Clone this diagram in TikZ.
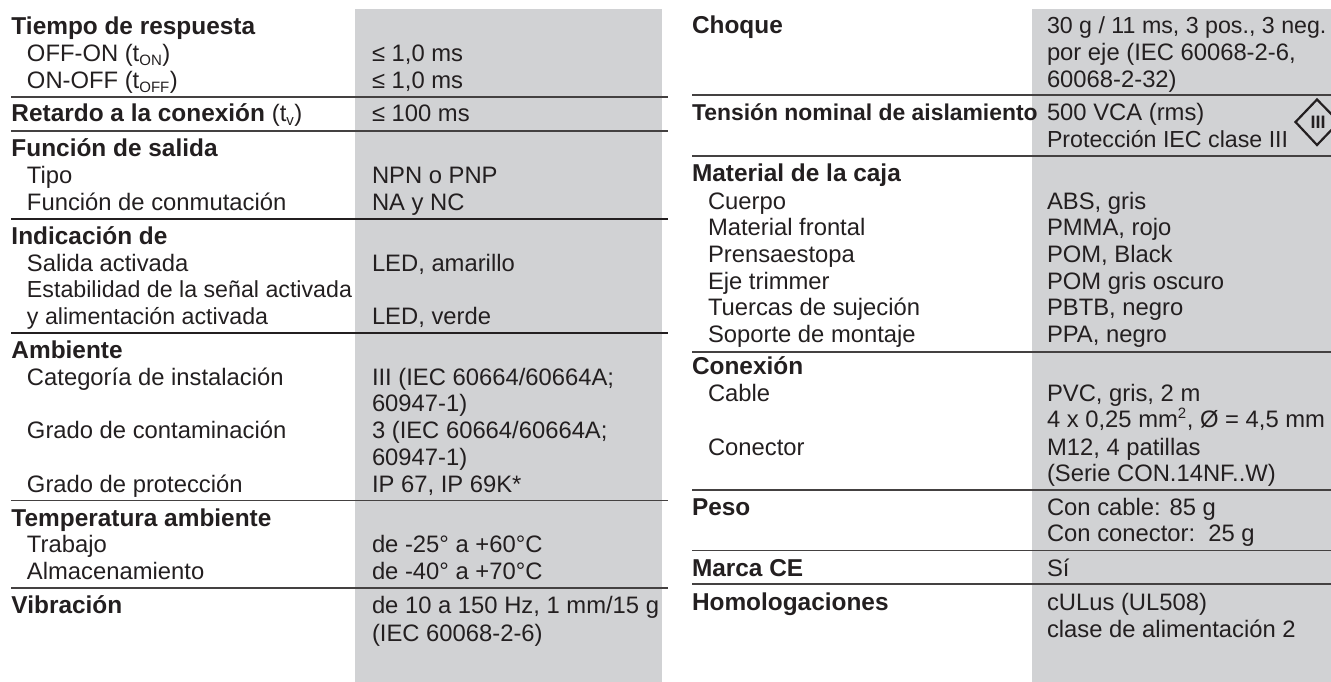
\documentclass[tikz,border=0pt]{standalone}
\usepackage{fontspec}
\setmainfont{Liberation Sans}
\definecolor{ink}{HTML}{231F20}
\definecolor{band}{HTML}{D1D2D4}
\newcommand{\subs}[1]{\textsubscript{\fontsize{15}{15}\selectfont #1}}
\tikzset{
 txt/.style={anchor=base west,inner sep=0pt,outer sep=0pt,text=ink,font=\fontsize{23.8}{26}\selectfont},
 tighttxt/.style={txt,font=\fontsize{23.2}{26}\selectfont},
 head/.style={txt,font=\fontsize{24.4}{26}\selectfont\bfseries},
 tighthead/.style={txt,font=\fontsize{22.9}{26}\selectfont\bfseries},
 rule/.style={draw=ink!85,line width=1.1pt},
 rulethick/.style={draw=ink,line width=1.9pt}
}
\begin{document}
\begin{tikzpicture}[x=1pt,y=-1pt]
\useasboundingbox (0,0) rectangle (1331,682);
\fill[band] (355,9) rectangle (662,682);
\fill[band] (1032,9) rectangle (1331,682);
% rules left
\draw[rule] (11,97) -- (668,97);
\draw[rule] (11,131) -- (668,131);
\draw[rulethick] (11,219) -- (668,219);
\draw[rulethick] (11,333) -- (668,333);
\draw[rule] (11,500.5) -- (668,500.5);
\draw[rule] (11,588) -- (668,588);
% rules right
\draw[rule] (692,95) -- (1331,95);
\draw[rule] (692,156) -- (1331,156);
\draw[rule] (692,352) -- (1331,352);
\draw[rule] (692,490) -- (1331,490);
\draw[rule] (692,550.5) -- (1331,550.5);
\draw[rule] (692,584) -- (1331,584);
% left column labels
\node[head] (h1) at (11.5,34.3) {Tiempo de respuesta};
\node[txt] (l1) at (27,61.7) {OFF-ON (t\subs{ON})};
\node[txt] (l2) at (27,88.3) {ON-OFF (t\subs{OFF})};
\node[head] (h2) at (11.5,122) {Retardo a la conexión \mdseries\fontsize{23.8}{26}\selectfont(t\subs{v})};
\node[head] (h3) at (11.5,156.7) {Función de salida};
\node[txt] (l3) at (27,183) {Tipo};
\node[txt] (l4) at (27,210) {Función de conmutación};
\node[head] (h4) at (11.5,244.3) {Indicación de};
\node[txt] (l5) at (27,271) {Salida activada};
\node[tighttxt] (l6) at (27,297.7) {Estabilidad de la señal activada};
\node[tighttxt] (l7) at (27,324) {y alimentación activada};
\node[head] (h5) at (11.5,358) {Ambiente};
\node[txt] (l8) at (27,385) {Categoría de instalación};
\node[txt] (l9) at (27,438) {Grado de contaminación};
\node[txt] (l10) at (27,492) {Grado de protección};
\node[head] (h6) at (11.5,526) {Temperatura ambiente};
\node[txt] (l11) at (27,552.7) {Trabajo};
\node[txt] (l12) at (27,579) {Almacenamiento};
\node[head] (h7) at (11.5,613.3) {Vibración};
% left column values
\node[txt] (v1) at (372,61.7) {≤ 1,0 ms};
\node[txt] (v2) at (372,88.3) {≤ 1,0 ms};
\node[txt] (v3) at (372,122) {≤ 100 ms};
\node[txt] (v4) at (372,183) {NPN o PNP};
\node[txt] (v5) at (372,210) {NA y NC};
\node[txt] (v6) at (372,271) {LED, amarillo};
\node[txt] (v7) at (372,324) {LED, verde};
\node[txt] (v8) at (372,385) {III (IEC 60664/60664A;};
\node[txt] (v9) at (372,411.7) {60947-1)};
\node[txt] (v10) at (372,438) {3 (IEC 60664/60664A;};
\node[txt] (v11) at (372,465.7) {60947-1)};
\node[txt] (v12) at (372,492) {IP 67, IP 69K*};
\node[txt] (v13) at (372,552.7) {de -25° a +60°C};
\node[txt] (v14) at (372,579) {de -40° a +70°C};
\node[txt] (v15) at (372,613.3) {de 10 a 150 Hz, 1 mm/15 g};
\node[txt] (v16) at (372,641.7) {(IEC 60068-2-6)};
% right column labels
\node[head] (r1) at (692,33.3) {Choque};
\node[tighthead] (r2) at (692,121) {Tensión nominal de aislamiento};
\node[head] (r3) at (692,182) {Material de la caja};
\node[txt] (m1) at (708,209) {Cuerpo};
\node[txt] (m2) at (708,235.7) {Material frontal};
\node[txt] (m3) at (708,262) {Prensaestopa};
\node[txt] (m4) at (708,289) {Eje trimmer};
\node[txt] (m5) at (708,315.7) {Tuercas de sujeción};
\node[txt] (m6) at (708,342) {Soporte de montaje};
\node[head] (r4) at (692,374) {Conexión};
\node[txt] (m7) at (708,401) {Cable};
\node[txt] (m8) at (708,455) {Conector};
\node[head] (r5) at (692,515.7) {Peso};
\node[head] (r6) at (692,576) {Marca CE};
\node[head] (r7) at (692,610.7) {Homologaciones};
% right column values
\node[tighttxt] (w1) at (1047,33.3) {30 g / 11 ms, 3 pos., 3 neg.};
\node[txt] (w2) at (1047,61) {por eje (IEC 60068-2-6,};
\node[txt] (w3) at (1047,87.7) {60068-2-32)};
\node[txt] (w4) at (1047,121) {500 VCA (rms)};
\node[tighttxt] (w5) at (1047,148) {Protección IEC clase III};
\node[txt] (w6) at (1047,209) {ABS, gris};
\node[txt] (w7) at (1047,235.7) {PMMA, rojo};
\node[txt] (w8) at (1047,262) {POM, Black};
\node[txt] (w9) at (1047,289) {POM gris oscuro};
\node[txt] (w10) at (1047,315.7) {PBTB, negro};
\node[txt] (w11) at (1047,342) {PPA, negro};
\node[txt] (w12) at (1047,401) {PVC, gris, 2 m};
\node[txt] (w13) at (1047,427.7) {4 x 0,25 mm\textsuperscript{\fontsize{15}{15}\selectfont 2}, Ø = 4,5 mm};
\node[txt] (w14) at (1047,455) {M12, 4 patillas};
\node[txt] (w15) at (1047,481.7) {(Serie CON.14NF..W)};
\node[txt] (w16) at (1047,515.7) {Con cable: 85 g};
\node[txt] (w17) at (1047,541.7) {Con conector:~~25 g};
\node[txt] (w18) at (1047,576) {Sí};
\node[txt] (w19) at (1047,610.7) {cULus (UL508)};
\node[txt] (w20) at (1047,637.7) {clase de alimentación 2};
% protection class symbol
\draw[ink,line width=2.2pt,miter limit=10] (1317,99.5) -- (1295.5,122) -- (1317,145) -- (1339,122) -- cycle;
\node[anchor=center,inner sep=0pt,text=ink,font=\fontsize{18}{18}\selectfont\bfseries] (cl) at (1318,122.5) {III};
\end{tikzpicture}
\end{document}
